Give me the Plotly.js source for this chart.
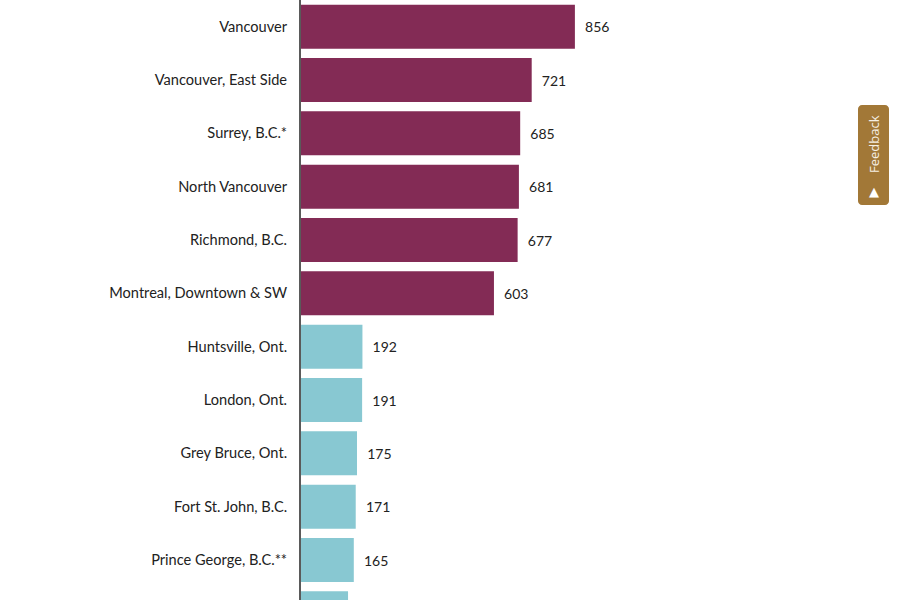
<!DOCTYPE html>
<html>
<head>
<meta charset="utf-8">
<script src="https://cdn.plot.ly/plotly-3.0.1.min.js"></script>
<style>
html,body{margin:0;padding:0;background:#fff;overflow:hidden;}
#chart{width:900px;height:640px;}
</style>
</head>
<body>
<div id="chart"></div>
<script>
var categories = ["Vancouver","Vancouver, East Side","Surrey, B.C.*","North Vancouver","Richmond, B.C.","Montreal, Downtown & SW","Huntsville, Ont.","London, Ont.","Grey Bruce, Ont.","Fort St. John, B.C.","Prince George, B.C.**","Kamloops"];
var values = [856,721,685,681,677,603,192,191,175,171,165,147];
var groups = ["high","high","high","high","high","high","low","low","low","low","low","low"];

var groupColors = {high:"#832b55", low:"#88c8d2"};
var colors = groups.map(function(g){return groupColors[g];});

var ML = 301, PW = 599, PH = 640;
function px(x){return (x-ML)/PW;}
function py(y){return 1 - y/PH;}
function roundRect(x0,y0,x1,y1,r){
  var k = 0.55*r;
  return "M"+px(x0+r)+","+py(y0)+
    " L"+px(x1-r)+","+py(y0)+
    " C"+px(x1-r+k)+","+py(y0)+" "+px(x1)+","+py(y0+r-k)+" "+px(x1)+","+py(y0+r)+
    " L"+px(x1)+","+py(y1-r)+
    " C"+px(x1)+","+py(y1-r+k)+" "+px(x1-r+k)+","+py(y1)+" "+px(x1-r)+","+py(y1)+
    " L"+px(x0+r)+","+py(y1)+
    " C"+px(x0+r-k)+","+py(y1)+" "+px(x0)+","+py(y1-r+k)+" "+px(x0)+","+py(y1-r)+
    " L"+px(x0)+","+py(y0+r)+
    " C"+px(x0)+","+py(y0+r-k)+" "+px(x0+r-k)+","+py(y0)+" "+px(x0+r)+","+py(y0)+" Z";
}

var trace = {
  type:"bar",
  orientation:"h",
  y:categories,
  x:values,
  marker:{color:colors, line:{width:0}},
  text:values.map(function(v){return "\u00a0\u00a0" + v;}),
  textposition:"outside",
  cliponaxis:false,
  textfont:{family:"Lato, 'Open Sans', sans-serif", size:14, color:"#222"},
  hoverinfo:"none"
};

var layout = {
  width:900, height:640,
  margin:{l:ML, r:0, t:0, b:0},
  paper_bgcolor:"#fff", plot_bgcolor:"#fff",
  bargap:0.175,
  showlegend:false,
  xaxis:{range:[0,1872], showgrid:false, zeroline:false, showticklabels:false, showline:false, fixedrange:true},
  yaxis:{autorange:"reversed", showgrid:false, zeroline:false, showline:true, linecolor:"#5a5a5a", linewidth:2,
         ticks:"", ticklabelstandoff:9,
         tickfont:{family:"Lato, 'Open Sans', sans-serif", size:14.6, color:"#222"}, fixedrange:true},
  shapes:[{
    type:"path", xref:"paper", yref:"paper",
    path:roundRect(858,105,889,205,4),
    fillcolor:"#a27837", line:{width:0}, layer:"above"
  }],
  annotations:[
    {xref:"paper", yref:"paper", x:px(874), y:py(144), xanchor:"center", yanchor:"middle",
     text:"Feedback", textangle:-90, showarrow:false,
     font:{family:"'Open Sans', sans-serif", size:13, color:"#f5efe4"}},
    {xref:"paper", yref:"paper", x:px(874), y:py(191), xanchor:"center", yanchor:"middle",
     text:"\u25B2", showarrow:false,
     font:{family:"'DejaVu Sans', sans-serif", size:13, color:"#ffffff"}}
  ]
};

Plotly.newPlot("chart", [trace], layout, {displayModeBar:false, staticPlot:true});
</script>
</body>
</html>
